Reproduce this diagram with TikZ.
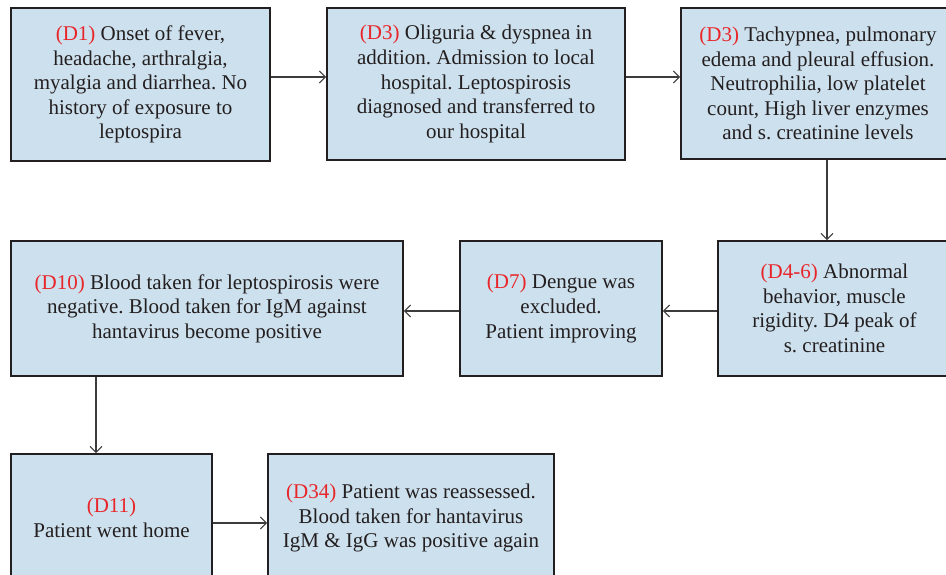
\documentclass[tikz,border=0pt]{standalone}
\usepackage{fontspec}
\setmainfont{Liberation Serif}
\usetikzlibrary{arrows.meta,calc}
\definecolor{boxfill}{RGB}{205,224,237}
\definecolor{boxline}{RGB}{35,31,32}
\definecolor{lbl}{RGB}{232,38,42}
\definecolor{arrline}{RGB}{60,60,60}
\newcommand{\dlab}[1]{\textcolor{lbl}{#1}}
\frenchspacing
\begin{document}
\begin{tikzpicture}[x=1pt,y=-1pt,
  box/.style={draw=boxline, line width=1.6pt, fill=boxfill, align=center,
    inner sep=2pt, text=boxline,
    font=\fontsize{21}{24.6}\selectfont},
  arr/.style={draw=arrline, line width=1.1pt,
    -{Straight Barb[length=6pt,width=12pt,line width=1.1pt]}}]
\useasboundingbox (0,0) rectangle (946,575);
\fill[white] (0,0) rectangle (946,575);
\node[box, minimum width=259pt, minimum height=153pt] (b1) at (140.5,84.5)
  {\dlab{(D1)} Onset of fever,\\headache, arthralgia,\\myalgia and diarrhea. No\\history of exposure to\\leptospira};
\node[box, minimum width=298pt, minimum height=152pt] (b2) at (476,84)
  {\dlab{(D3)} Oliguria \& dyspnea in\\addition. Admission to local\\hospital. Leptospirosis\\diagnosed and transferred to\\our hospital};
\node[box, minimum width=274pt, minimum height=151pt] (b3) at (818,83.5)
  {\dlab{(D3)} Tachypnea, pulmonary\\edema and pleural effusion.\\Neutrophilia, low platelet\\count, High liver enzymes\\and s. creatinine levels};
\node[box, minimum width=233pt, minimum height=135pt] (b4) at (834.5,308.5)
  {\dlab{(D4-6)} Abnormal\\behavior, muscle\\rigidity. D4 peak of\\s. creatinine};
\node[box, minimum width=202pt, minimum height=135pt] (b5) at (561,308.5)
  {\dlab{(D7)} Dengue was\\excluded.\\Patient improving};
\node[box, minimum width=392pt, minimum height=135pt] (b6) at (207,308.5)
  {\dlab{(D10)} Blood taken for leptospirosis were\\negative. Blood taken for IgM against\\hantavirus become positive};
\node[box, minimum width=201pt, minimum height=128pt] (b7) at (111.5,518)
  {\dlab{(D11)}\\Patient went home};
\node[box, minimum width=286pt, minimum height=128pt] (b8) at (411,518)
  {\dlab{(D34)} Patient was reassessed.\\Blood taken for hantavirus\\IgM \& IgG was positive again};
\draw[arr] ([yshift=7.5pt]b1.east) -- ([yshift=7.5pt]b1.east -| b2.west);
\draw[arr] ([yshift=7pt]b2.east) -- ([yshift=7pt]b2.east -| b3.west);
\coordinate (c34) at ([xshift=9pt]b3.south);
\draw[arr] (c34) -- (c34 |- b4.north);
\draw[arr] ([yshift=-2.5pt]b4.west) -- ([yshift=-2.5pt]b4.west -| b5.east);
\draw[arr] ([yshift=-2.5pt]b5.west) -- ([yshift=-2.5pt]b5.west -| b6.east);
\coordinate (c67) at ([xshift=-15.5pt]b7.north);
\draw[arr] (b6.south -| c67) -- (c67);
\draw[arr] ([yshift=-5pt]b7.east) -- ([yshift=-5pt]b7.east -| b8.west);
\end{tikzpicture}
\end{document}
